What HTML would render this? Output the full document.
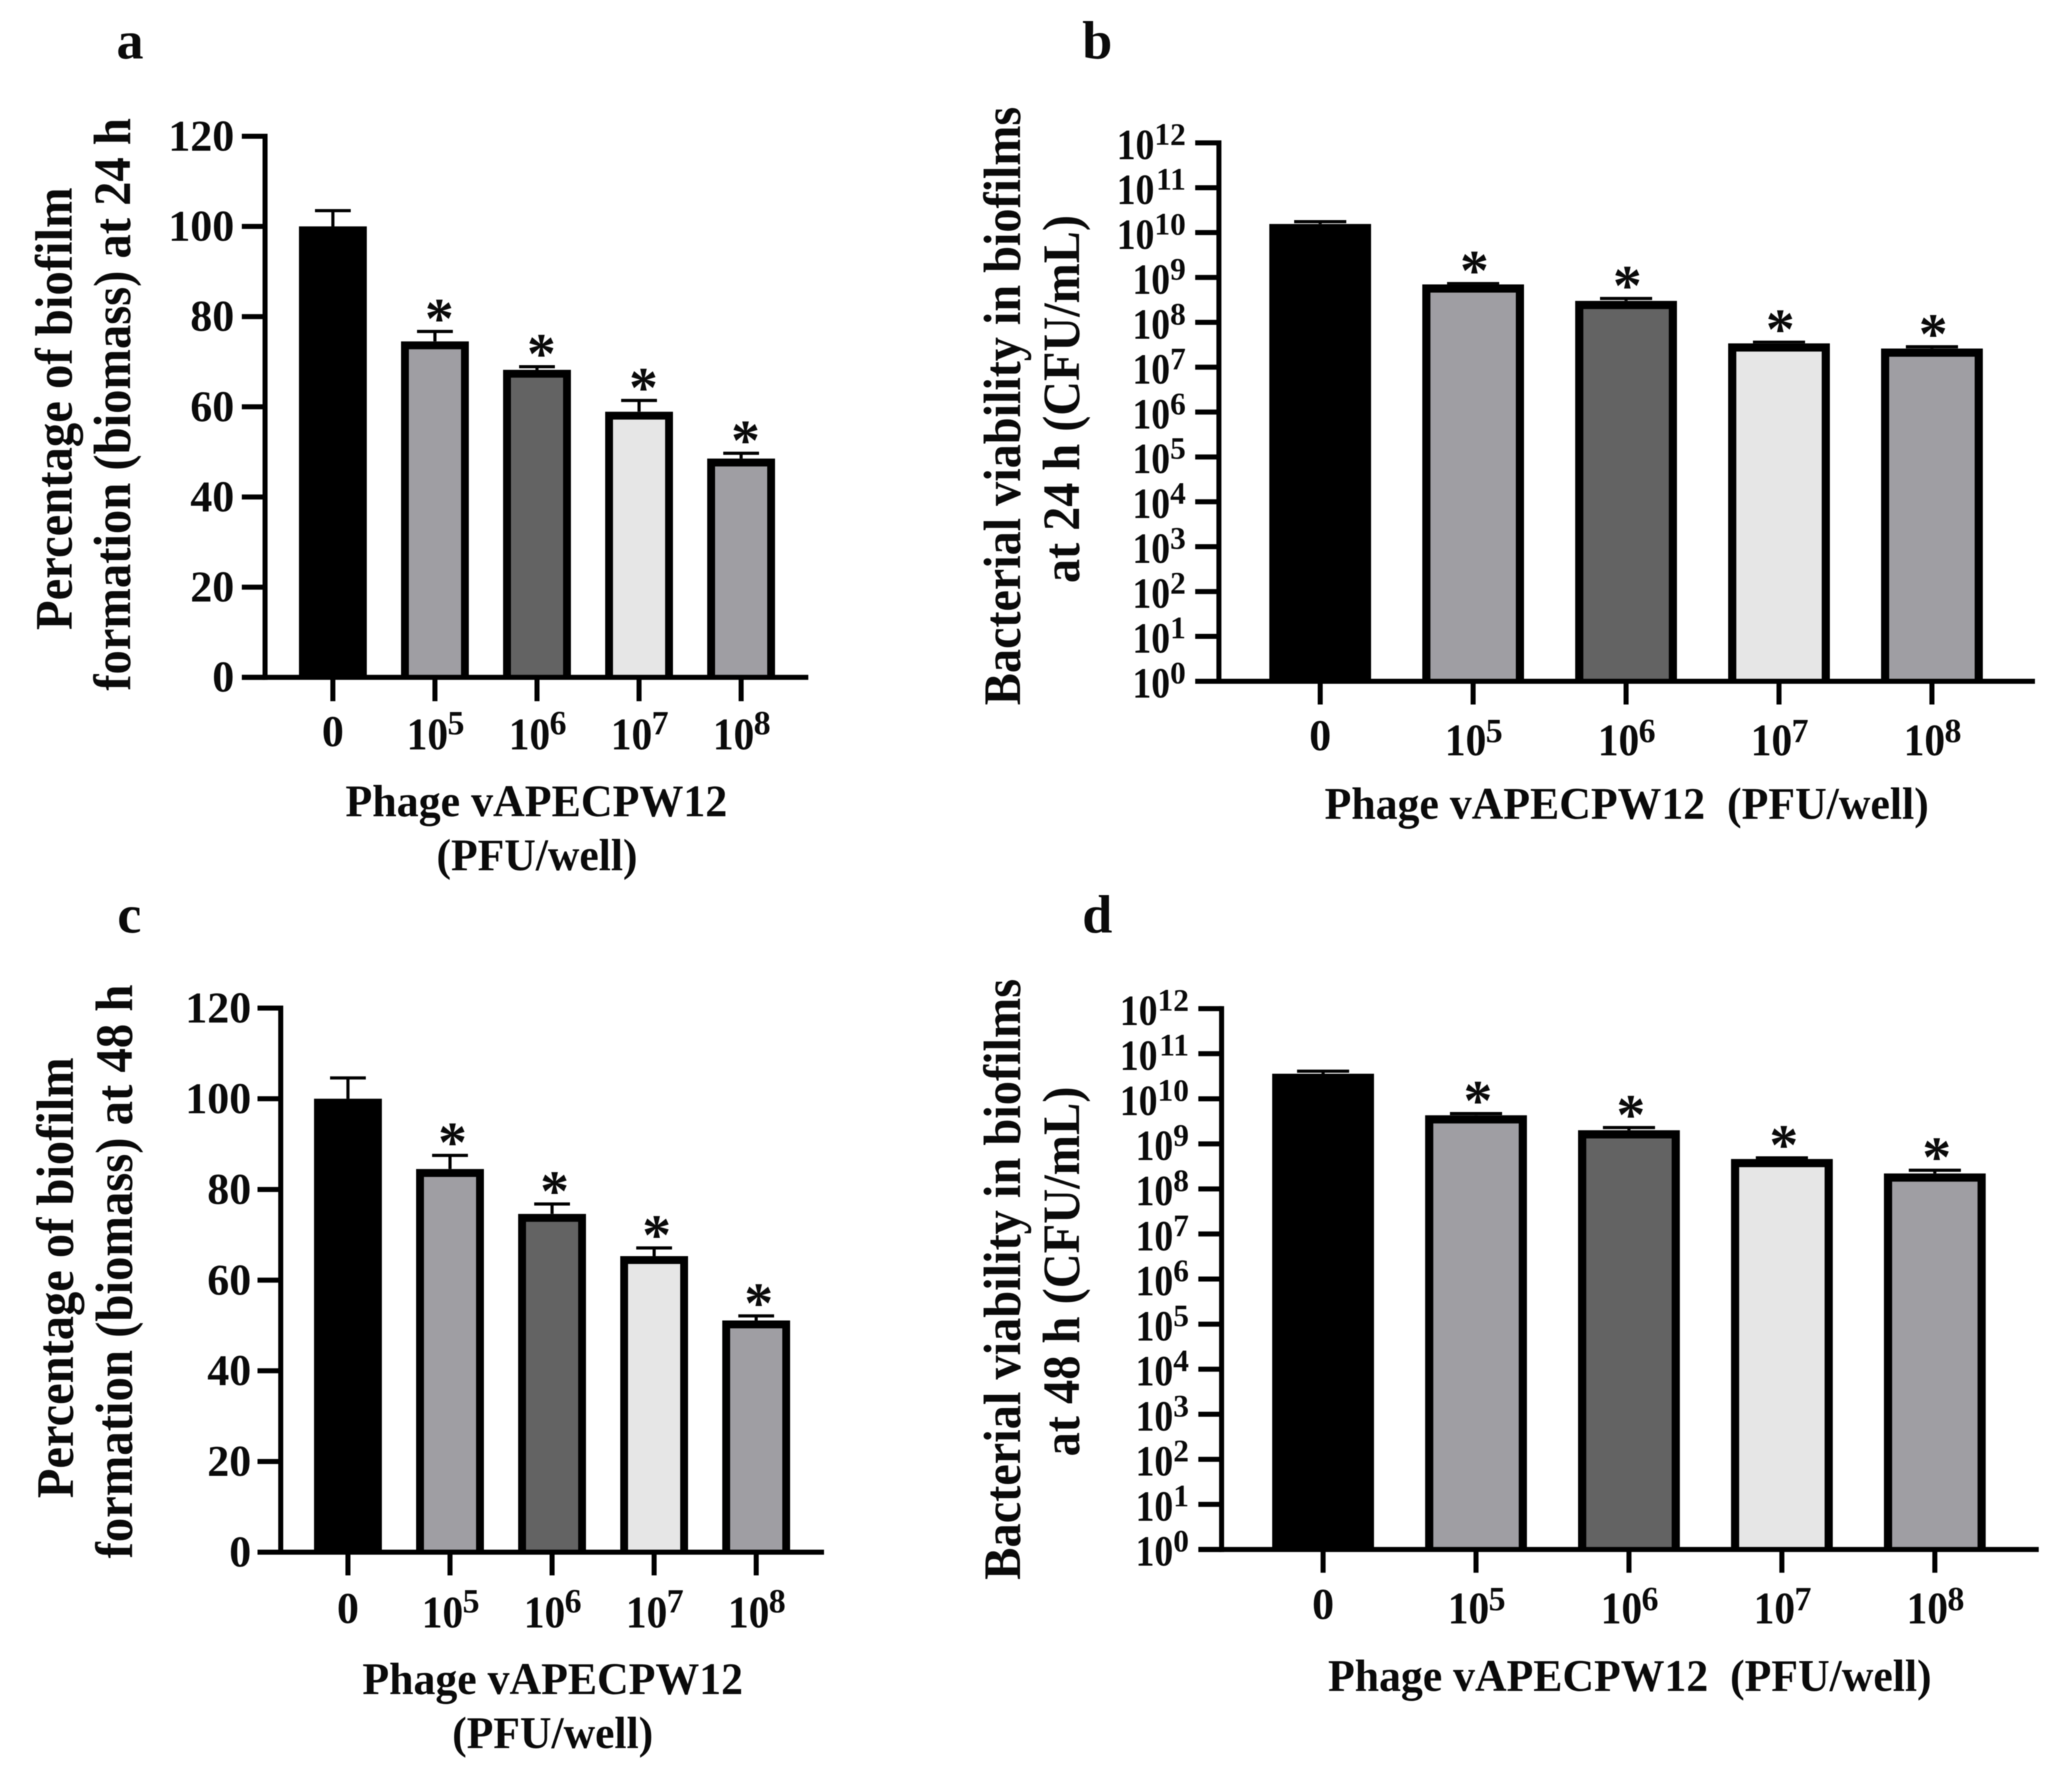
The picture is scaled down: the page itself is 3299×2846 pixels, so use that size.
<!DOCTYPE html>
<html lang="en">
<head>
<meta charset="utf-8">
<title>Phage vAPECPW12 biofilm charts</title>
<style>
html,body{margin:0;padding:0;background:#fff;}
body{width:3299px;height:2846px;overflow:hidden;}
svg{display:block;filter:blur(0.9px);}
text{font-family:"Liberation Serif","Noto Serif CJK SC",serif;font-weight:bold;fill:#0a0a0a;}
</style>
</head>
<body>
<svg id="figure" xmlns="http://www.w3.org/2000/svg" width="3299" height="2846" viewBox="0 0 3299 2846">
<rect x="0" y="0" width="3299" height="2846" fill="#ffffff"></rect>
</svg>
<script>
// Shared categories and tick labels
const categoryExponents = [null, 5, 6, 7, 8];
const categoryNames = ['0', '1e5', '1e6', '1e7', '1e8'];
const linearTicks = [0, 20, 40, 60, 80, 100, 120];
const logTickExponents = [0, 1, 2, 3, 4, 5, 6, 7, 8, 9, 10, 11, 12];

// Panel a: percentage of biofilm at 24 h
const biomass24Values = [100, 74.5, 68.2, 58.9, 48.5];
const biomass24Errors = [3.5, 2.2, 0.7, 2.5, 1.2];

// Panel b: CFU/mL at 24 h
const viability24Values = [1.55e10, 7e8, 3e8, 3.4e7, 2.6e7];
const viability24Errors = [2e9, 3e7, 4e7, 2e6, 2.5e6];

// Panel c: percentage of biofilm at 48 h
const biomass48Values = [100, 84.5, 74.6, 65.3, 51.1];
const biomass48Errors = [4.6, 3, 2.2, 1.8, 1];

// Panel d: CFU/mL at 48 h
const viability48Values = [3.6e10, 4.3e9, 2e9, 4.6e8, 2.2e8];
const viability48Errors = [5e9, 4e8, 3e8, 3e7, 4e7];

// Which bars carry a significance asterisk
const significant = [false, true, true, true, true];

const barFills = ['#000000', '#9f9ea3', '#636363', '#e6e6e6', '#9f9ea3'];

const svg = document.getElementById('figure');
const NS = 'http://www.w3.org/2000/svg';

function mk(tag, parent, attrs, content) {
  const el = document.createElementNS(NS, tag);
  for (const k in attrs) el.setAttribute(k, attrs[k]);
  if (content !== undefined) el.textContent = content;
  parent.appendChild(el);
  return el;
}

function line(parent, x1, y1, x2, y2, w) {
  return mk('line', parent, {x1: x1, y1: y1, x2: x2, y2: y2, stroke: '#000', 'stroke-width': w});
}

function drawPanel(cfg) {
  const g = mk('g', svg, {});
  
  

  const yOf = cfg.log
    ? function (v) { return cfg.y0 - (Math.log10(v) / 12) * (cfg.y0 - cfg.yTop); }
    : function (v) { return cfg.y0 - (v / 120) * (cfg.y0 - cfg.yTop); };
  const xOf = function (i) { return cfg.x0 + i * cfg.xStep; };

  const label = mk('text', g, {x: cfg.labelX, y: cfg.labelY, 'font-size': 86, 'text-anchor': 'middle'}, cfg.id);
  
  

  // Bars, error bars and asterisks
  const half = cfg.barW / 2;
  const bw = cfg.border;
  cfg.values.forEach(function (v, i) {
    const cx = xOf(i);
    const top = yOf(v);
    const capY = yOf(v + cfg.errors[i]);

    const stem = line(g, cx, top, cx, capY, 5);
    
    
    const cap = line(g, cx - cfg.capW / 2, capY, cx + cfg.capW / 2, capY, 5);
    
    

    const bar = mk('rect', g, {
      x: cx - half, y: top, width: cfg.barW, height: Math.max(0, cfg.y0 - top), fill: barFills[i]
    });
    
    

    const outline = mk('polyline', g, {
      points: (cx - half + bw / 2) + ',' + cfg.y0 + ' ' + (cx - half + bw / 2) + ',' + (top + bw / 2) + ' ' +
              (cx + half - bw / 2) + ',' + (top + bw / 2) + ' ' + (cx + half - bw / 2) + ',' + cfg.y0,
      fill: 'none', stroke: '#000', 'stroke-width': bw
    });
    
    

    if (significant[i]) {
      const star = mk('text', g, {x: cx + cfg.starDx, y: capY + 10, 'font-size': 92, 'text-anchor': 'middle'}, '*');
      
      
    }
  });

  // Axes
  const yAxis = line(g, cfg.axisX, cfg.yTop - 4, cfg.axisX, cfg.y0 + 4, 8);
  
  
  const xAxis = line(g, cfg.tickLeft, cfg.y0, cfg.xEnd, cfg.y0, 8);
  
  

  // Y ticks
  if (cfg.log) {
    logTickExponents.forEach(function (e) {
      const y = yOf(Math.pow(10, e));
      const t = line(g, cfg.tickLeft, y, cfg.axisX, y, 8);
      
      
      const supW = String(e).length * 25;
      const sup = mk('text', g, {x: cfg.yLabelEnd, y: y + 3, 'font-size': 50, 'text-anchor': 'end'}, String(e));
      
      
      const base = mk('text', g, {x: cfg.yLabelEnd - supW, y: y + 26, 'font-size': 69, 'text-anchor': 'end', textLength: 60, lengthAdjust: 'spacingAndGlyphs'}, '10');
      
      
    });
  } else {
    linearTicks.forEach(function (v) {
      const y = yOf(v);
      const t = line(g, cfg.tickLeft, y, cfg.axisX, y, 8);
      
      
      const lab = mk('text', g, {x: cfg.yLabelEnd, y: y + 23, 'font-size': 70, 'text-anchor': 'end'}, String(v));
      
      
    });
  }

  // X ticks and labels
  categoryExponents.forEach(function (e, i) {
    const x = xOf(i);
    const t = line(g, x, cfg.y0, x, cfg.y0 + cfg.tickLen, 8);
    
    
    if (e === null) {
      const z = mk('text', g, {x: x, y: cfg.y0 + cfg.zeroDy, 'font-size': 70, 'text-anchor': 'middle'}, '0');
      
      
    } else {
      const base = mk('text', g, {x: x - 45, y: cfg.y0 + cfg.powDy, 'font-size': 72, textLength: 66, lengthAdjust: 'spacingAndGlyphs'}, '10');
      
      
      const sup = mk('text', g, {x: x + 20, y: cfg.y0 + cfg.supDy, 'font-size': 54}, String(e));
      
      
    }
  });

  // Axis titles
  cfg.yTitles.forEach(function (tt) {
    const el = mk('text', g, {
      x: tt[1], y: tt[2], transform: 'rotate(-90 ' + tt[1] + ' ' + tt[2] + ')',
      'font-size': 84, 'text-anchor': 'middle', textLength: tt[3], lengthAdjust: 'spacingAndGlyphs'
    }, tt[0]);
    
    
  });
  cfg.xTitles.forEach(function (tt) {
    const el = mk('text', g, {
      x: tt[1], y: tt[2], 'font-size': 72, 'text-anchor': 'middle',
      textLength: tt[3], lengthAdjust: 'spacingAndGlyphs'
    }, tt[0]);
    el.setAttribute('xml:space', 'preserve');
    el.style.whiteSpace = 'pre';
    
    
  });
}

drawPanel({
  id: 'a', log: false, values: biomass24Values, errors: biomass24Errors,
  labelX: 207, labelY: 93,
  axisX: 422, tickLeft: 385, xEnd: 1287, y0: 1078.7, yTop: 217,
  x0: 530, xStep: 162.5, barW: 108, border: 12.5, capW: 57, starDx: 7,
  tickLen: 38, zeroDy: 110, powDy: 115, supDy: 91, yLabelEnd: 373,
  yTitles: [['Percentage of biofilm', 114, 651, 705], ['formation (biomass) at 24 h', 207, 644, 912]],
  xTitles: [['Phage vAPECPW12', 854, 1300, 608], ['(PFU/well)', 855, 1386, 320]]
});

drawPanel({
  id: 'b', log: true, values: viability24Values, errors: viability24Errors,
  labelX: 1747, labelY: 93,
  axisX: 1940.7, tickLeft: 1903, xEnd: 3240, y0: 1085, yTop: 227.5,
  x0: 2102, xStep: 243.5, barW: 162, border: 13, capW: 83, starDx: 2,
  tickLen: 37, zeroDy: 110, powDy: 118, supDy: 97, yLabelEnd: 1888,
  yTitles: [['Bacterial viability in biofilms', 1624, 646.6, 953], ['at 24 h  (CFU/mL)', 1718, 635.5, 586]],
  xTitles: [['Phage vAPECPW12  (PFU/well)', 2590, 1304, 962]]
});

drawPanel({
  id: 'c', log: false, values: biomass48Values, errors: biomass48Errors,
  labelX: 206, labelY: 1485,
  axisX: 447, tickLeft: 410, xEnd: 1312, y0: 2472, yTop: 1605.5,
  x0: 554, xStep: 162.5, barW: 108, border: 12.5, capW: 57, starDx: 4,
  tickLen: 37, zeroDy: 113, powDy: 120, supDy: 96, yLabelEnd: 400,
  yTitles: [['Percentage of biofilm', 116, 2035, 702], ['formation (biomass) at 48 h', 210, 2025, 914]],
  xTitles: [['Phage vAPECPW12', 880, 2698, 606], ['(PFU/well)', 880, 2784, 320]]
});

drawPanel({
  id: 'd', log: true, values: viability48Values, errors: viability48Errors,
  labelX: 1747, labelY: 1485,
  axisX: 1945, tickLeft: 1908, xEnd: 3246, y0: 2467.7, yTop: 1606.4,
  x0: 2106.6, xStep: 243.5, barW: 162, border: 13, capW: 83, starDx: 3,
  tickLen: 37, zeroDy: 111, powDy: 118, supDy: 97, yLabelEnd: 1893,
  yTitles: [['Bacterial viability in biofilms', 1624, 2037.5, 957], ['at 48 h  (CFU/mL)', 1718, 2025, 589]],
  xTitles: [['Phage vAPECPW12  (PFU/well)', 2595, 2693, 961]]
});
</script>
</body>
</html>
